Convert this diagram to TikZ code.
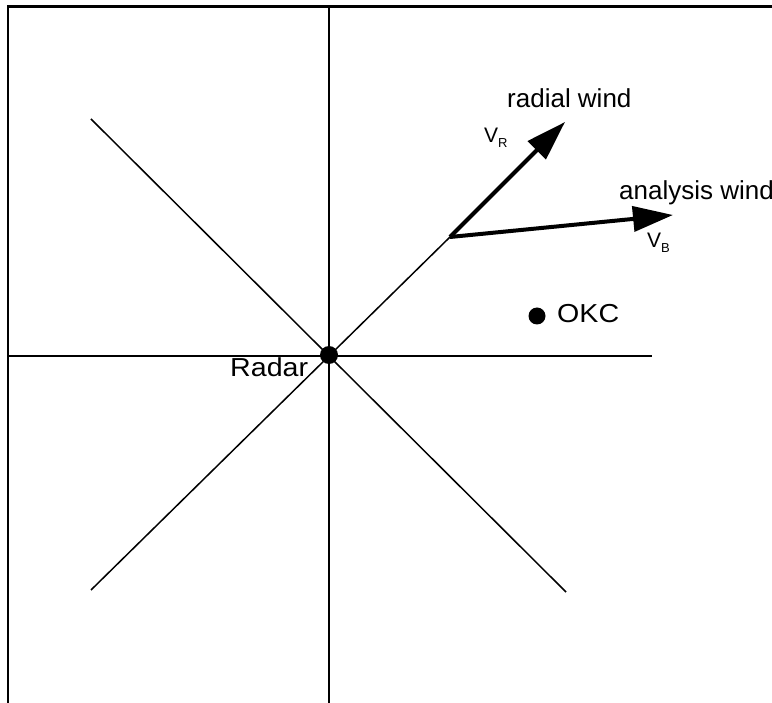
\documentclass[tikz,border=0pt]{standalone}
\usepackage{fontspec}
\setmainfont{Liberation Sans}
\usetikzlibrary{arrows.meta}
\begin{document}
\begin{tikzpicture}[x=1pt,y=-1pt,
  axis/.style={line width=1.5pt,black},
  frame/.style={line width=2.6pt,black},
  wind/.style={line width=4pt,-{Triangle[length=40pt,width=25pt]}},
  dot/.style={circle,fill=black,inner sep=0pt},
  lbl/.style={anchor=base west,inner sep=0pt,font=\fontsize{26}{30}\selectfont},
  vlbl/.style={anchor=base west,inner sep=0pt,font=\fontsize{21}{24}\selectfont}]
\useasboundingbox (0,0) rectangle (772,703);
% frame
\draw[frame] (8,703) -- (8,6.5) -- (772,6.5);
% axes
\coordinate (top) at (329,6.5);
\coordinate (bottom) at (329,703);
\coordinate (left) at (8,356);
\coordinate (right) at (652,356);
\coordinate (nw) at (91,119);
\coordinate (se) at (566,592);
\coordinate (sw) at (91,590);
\coordinate (start) at (450,237);
\draw[axis] (top) -- (bottom);
\draw[axis] (left) -- (right);
\draw[axis] (nw) -- (se);
\draw[axis] (sw) -- (start);
\node[dot,minimum size=18pt] (radar) at (329,355) {};
\node[dot,minimum size=17pt] (okc) at (537,316) {};
% wind arrows
\coordinate (rtip) at (565,122);
\coordinate (atip) at (673,215);
\draw[wind] (start) -- (rtip);
\draw[wind] (start) -- (atip);
% labels
\node[lbl] (radial) at (507,108) {radial wind};
\node[lbl] (analysis) at (619,200) {analysis wind};
\node[lbl] (radarlbl) at (230,377) {\scalebox{1.1}[1]{Radar}};
\node[lbl] (okclbl) at (557,323) {\scalebox{1.1}[1]{OKC}};
\node[vlbl] (vr) at (484,143) {V\raisebox{-5pt}{\fontsize{13}{14}\selectfont R}};
\node[vlbl] (vb) at (647,248) {V\raisebox{-5pt}{\fontsize{13}{14}\selectfont B}};
\end{tikzpicture}
\end{document}
